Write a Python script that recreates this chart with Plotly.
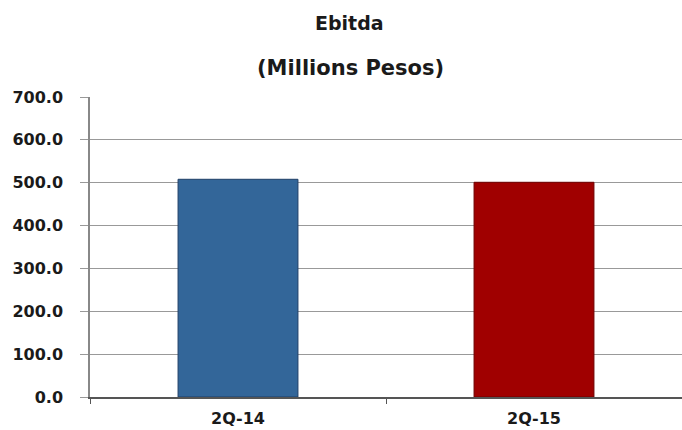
import plotly.graph_objects as go

# Quarterly EBITDA, millions of pesos
periods = ["2Q-14", "2Q-15"]
ebitda = [508.0, 501.0]
bar_colors = ["#336699", "#A00000"]
bar_edges = ["#1F3F66", "#6E0000"]
y_ticks = [0, 100, 200, 300, 400, 500, 600, 700]
y_labels = [f"{v:.1f}" for v in y_ticks]

font_family = "DejaVu Sans, Liberation Sans, Arial, sans-serif"
text_color = "#1a1a1a"

W, H = 682, 430
M_L, M_R, M_T, M_B = 90, 0, 97, 33
plot_w = W - M_L - M_R
plot_h = H - M_T - M_B


def paper_x(px):
    return (px - M_L) / plot_w


def paper_y(py):
    return (H - M_B - py) / plot_h


fig = go.Figure(
    go.Bar(
        x=periods,
        y=ebitda,
        width=0.405,
        marker=dict(color=bar_colors, line=dict(color=bar_edges, width=1)),
        hoverinfo="x+y",
    )
)

fig.update_layout(
    width=W,
    height=H,
    margin=dict(l=M_L, r=M_R, t=M_T, b=M_B),
    paper_bgcolor="white",
    plot_bgcolor="white",
    showlegend=False,
    font=dict(family=font_family, size=16, color=text_color),
    annotations=[
        dict(text="<b>Ebitda</b>", x=paper_x(349), y=paper_y(23),
             xref="paper", yref="paper", xanchor="center", yanchor="middle",
             showarrow=False, font=dict(size=19)),
        dict(text="<b>(Millions Pesos)</b>", x=paper_x(350), y=paper_y(68),
             xref="paper", yref="paper", xanchor="center", yanchor="middle",
             showarrow=False, font=dict(size=21)),
    ],
)

fig.update_xaxes(
    type="category",
    showline=True,
    linecolor="#555555",
    linewidth=1.5,
    ticks="outside",
    tickson="boundaries",
    ticklen=5,
    tickcolor="#555555",
    tickfont=dict(size=16, color=text_color),
    tickprefix="<b>",
    ticksuffix="</b>",
    ticklabelstandoff=6,
    showgrid=False,
)

fig.update_yaxes(
    range=[0, 700],
    tickvals=y_ticks,
    ticktext=[f"<b>{t}</b>" for t in y_labels],
    showline=True,
    linecolor="#888888",
    linewidth=1.5,
    ticks="outside",
    ticklen=8,
    tickcolor="#999999",
    showgrid=True,
    gridcolor="#999999",
    gridwidth=1,
    zeroline=False,
    tickfont=dict(size=16, color=text_color),
    ticklabelstandoff=14,
)

fig.write_html("out.html")
